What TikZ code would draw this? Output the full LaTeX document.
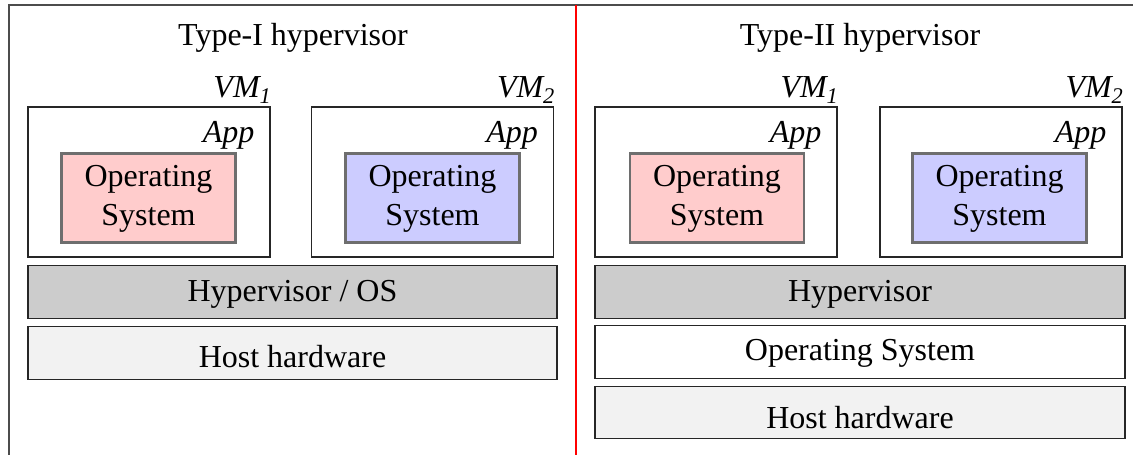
\documentclass[tikz,border=0pt]{standalone}
\usepackage{fontspec}
\setmainfont{Liberation Serif}
\usetikzlibrary{calc}
\definecolor{ospink}{HTML}{FFCCCC}
\definecolor{osblue}{HTML}{CCCCFF}
\definecolor{hvgray}{HTML}{CCCCCC}
\definecolor{hwgray}{HTML}{F2F2F2}
\definecolor{osborder}{HTML}{6E6E6E}
\tikzset{
  txt/.style={inner sep=0pt, font=\fontsize{32}{38}\selectfont},
  vmbox/.style={draw=black!85, line width=1.2pt, fill=white, minimum width=242pt, minimum height=150pt, inner sep=0pt},
  osbox/.style={draw=osborder, line width=2.6pt, minimum width=174pt, minimum height=89pt, inner sep=0pt},
  layer/.style={draw=black!85, line width=1.2pt, minimum width=530pt, minimum height=53pt, inner sep=0pt},
  lbl/.style={inner sep=0pt, font=\fontsize{32}{38}\selectfont\itshape},
}
\begin{document}
\begin{tikzpicture}[x=1pt,y=-1pt]
\useasboundingbox (0,0) rectangle (1133,455);
% frame
\coordinate (ftr) at (1133,5);
\coordinate (ftl) at (9,5);
\coordinate (fbl) at (9,455);
\draw[black!70, line width=1.3pt] (ftr) -- (ftl) -- (fbl);
\coordinate (rtop) at (576,5);
\coordinate (rbot) at (576,455);
\draw[red, line width=2pt] (rtop) -- (rbot);
% titles
\node[txt, anchor=base] (t1) at (293,45) {Type-I hypervisor};
\node[txt, anchor=base] (t2) at (860,45) {Type-II hypervisor};
% left side
\node[vmbox] (lvm1) at (149,182) {};
\node[vmbox] (lvm2) at (432.5,182) {};
\node[osbox, fill=ospink] (los1) at (148.5,198) {};
\node[osbox, fill=osblue] (los2) at (432.5,198) {};
\node[lbl, anchor=base east] (lvm1l) at ($(lvm1.north east)+(1,-9)$) {VM\textsubscript{\itshape 1}};
\node[lbl, anchor=base east] (lvm2l) at ($(lvm2.north east)+(1,-9)$) {VM\textsubscript{\itshape 2}};
\node[lbl, anchor=base east] (lapp1) at ($(lvm1.north east)+(-16,36)$) {App};
\node[lbl, anchor=base east] (lapp2) at ($(lvm2.north east)+(-16,36)$) {App};
\node[txt, anchor=base] (los1a) at ($(los1.center)+(0,-12)$) {Operating};
\node[txt, anchor=base] (los1b) at ($(los1.center)+(0,27)$) {System};
\node[txt, anchor=base] (los2a) at ($(los2.center)+(0,-12)$) {Operating};
\node[txt, anchor=base] (los2b) at ($(los2.center)+(0,27)$) {System};
\node[layer, fill=hvgray, minimum width=529pt] (lhv) at (292.5,291.8) {};
\node[layer, fill=hwgray, minimum width=529pt] (lhw) at (292.5,352.7) {};
\node[txt, anchor=base] (lhvt) at ($(lhv.center)+(0,9.3)$) {Hypervisor / OS};
\node[txt, anchor=base] (lhwt) at ($(lhw.center)+(0,15)$) {Host hardware};
% right side
\node[vmbox] (rvm1) at (716,182) {};
\node[vmbox] (rvm2) at (1001,182) {};
\node[osbox, fill=ospink] (ros1) at (717,198) {};
\node[osbox, fill=osblue] (ros2) at (999.5,198) {};
\node[lbl, anchor=base east] (rvm1l) at ($(rvm1.north east)+(1,-9)$) {VM\textsubscript{\itshape 1}};
\node[lbl, anchor=base east] (rvm2l) at ($(rvm2.north east)+(1,-9)$) {VM\textsubscript{\itshape 2}};
\node[lbl, anchor=base east] (rapp1) at ($(rvm1.north east)+(-16,36)$) {App};
\node[lbl, anchor=base east] (rapp2) at ($(rvm2.north east)+(-16,36)$) {App};
\node[txt, anchor=base] (ros1a) at ($(ros1.center)+(0,-12)$) {Operating};
\node[txt, anchor=base] (ros1b) at ($(ros1.center)+(0,27)$) {System};
\node[txt, anchor=base] (ros2a) at ($(ros2.center)+(0,-12)$) {Operating};
\node[txt, anchor=base] (ros2b) at ($(ros2.center)+(0,27)$) {System};
\node[layer, fill=hvgray] (rhv) at (860,291.8) {};
\node[layer, fill=white] (ros) at (860,352.2) {};
\node[layer, fill=hwgray, minimum height=52pt] (rhw) at (860,412.3) {};
\node[txt, anchor=base] (rhvt) at ($(rhv.center)+(0,9.3)$) {Hypervisor};
\node[txt, anchor=base] (rost) at ($(ros.center)+(0,8)$) {Operating System};
\node[txt, anchor=base] (rhwt) at ($(rhw.center)+(0,16)$) {Host hardware};
\end{tikzpicture}
\end{document}
